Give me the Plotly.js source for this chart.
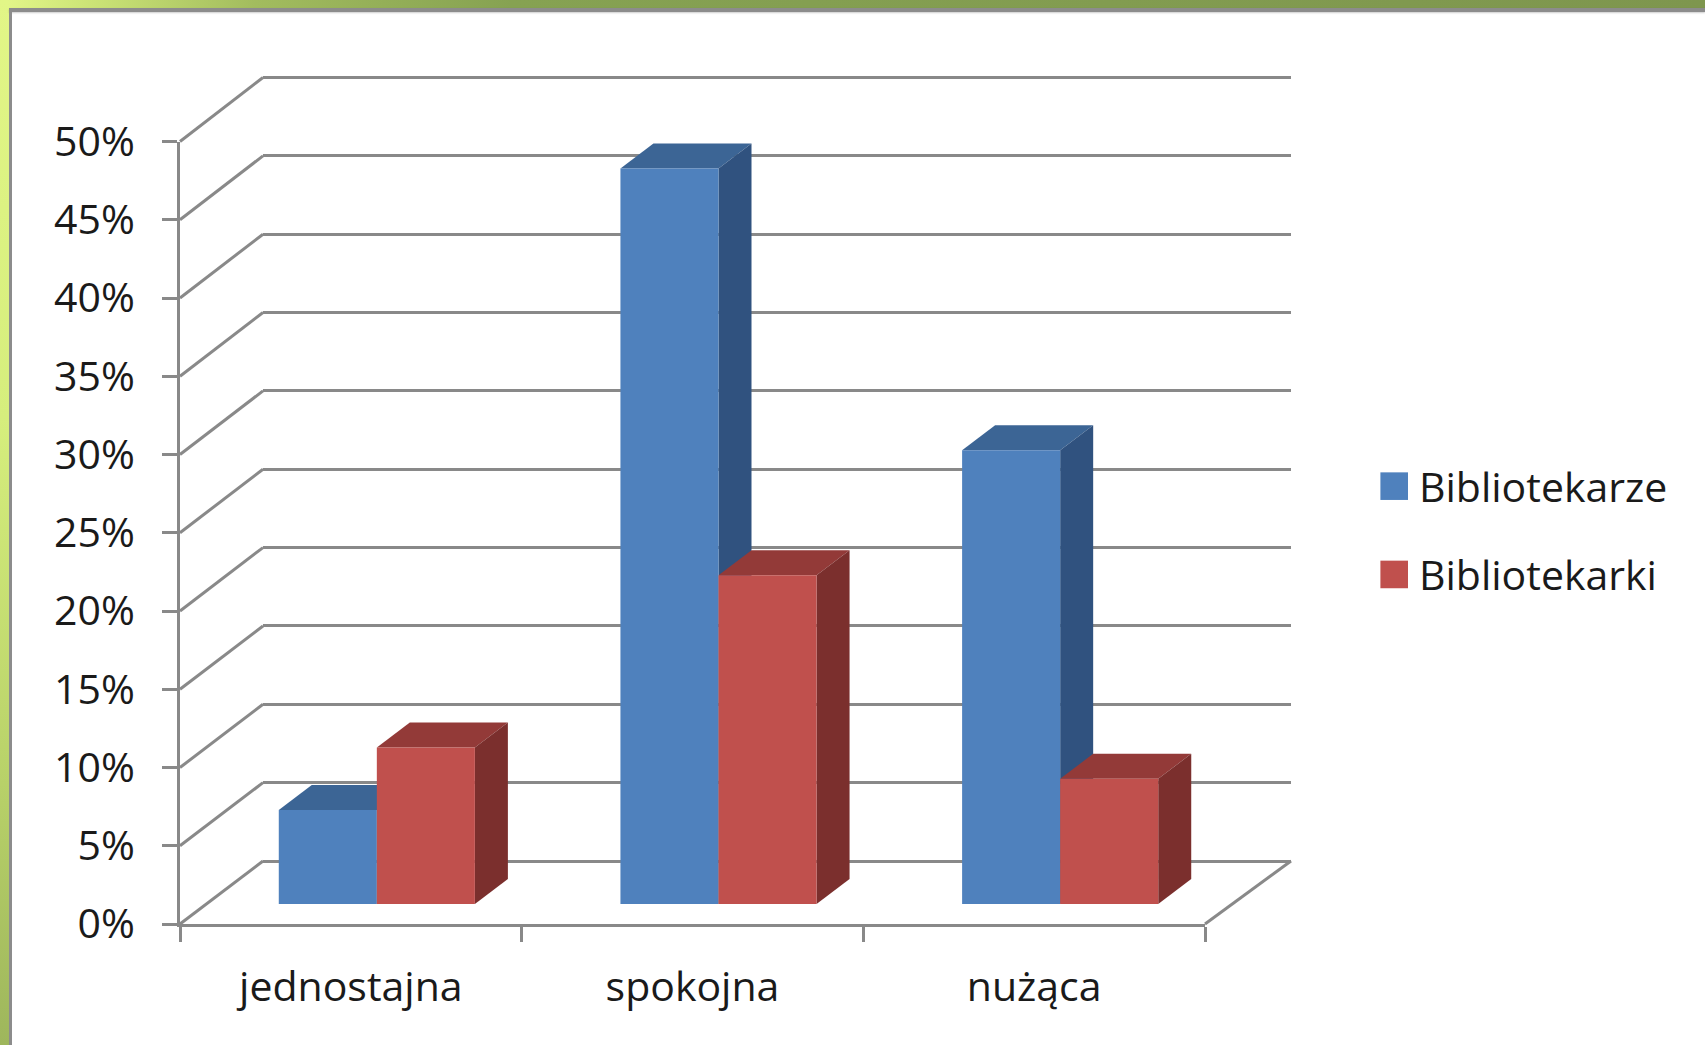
<!DOCTYPE html>
<html>
<head>
<meta charset="utf-8">
<script src="https://cdn.plot.ly/plotly-3.0.1.min.js"></script>
<style>
html,body{margin:0;padding:0;width:1705px;height:1045px;overflow:hidden;background:#ffffff;}
#topband{position:absolute;left:0;top:0;width:1705px;height:8px;background:linear-gradient(to right,#E4F78A 0%,#CDE577 5%,#A2BC5E 15%,#86A252 30%,#7E964E 100%);}
#leftband{position:absolute;left:0;top:0;width:9px;height:1045px;background:linear-gradient(to bottom,#E2F687 0%,#D6EE7D 40%,#B8D169 75%,#9EB65C 100%);}
#topline{position:absolute;left:9px;top:8px;width:1696px;height:4px;background:#8C8C8C;box-shadow:0 1px 2px rgba(0,0,0,0.2);}
#leftline{position:absolute;left:9px;top:8px;width:3px;height:1037px;background:#8C8C8C;}
#chart{position:absolute;left:0;top:0;width:1705px;height:1045px;}
</style>
</head>
<body>
<div id="topband"></div>
<div id="leftband"></div>
<div id="topline"></div>
<div id="leftline"></div>
<div id="chart"></div>
<script>
// ---------------- data ----------------
const categories = ['jednostajna', 'spokojna', 'nużąca'];
const seriesNames = ['Bibliotekarze', 'Bibliotekarki'];
const bibliotekarze = [6, 47, 29];   // %
const bibliotekarki = [10, 21, 8];   // %
const yTickValues = [0, 5, 10, 15, 20, 25, 30, 35, 40, 45, 50];
const yTickLabels = ['0%', '5%', '10%', '15%', '20%', '25%', '30%', '35%', '40%', '45%', '50%'];

// ---------------- styling / geometry ----------------
const W = 1705, H = 1045;
const FRONT = {x0: 180, x1: 1205, y0: 924, y1: 141.5};   // front plane (axes)
const BACK  = {x0: 263, x1: 1291, y0: 861, y1: 77.5};    // back wall
const BARP  = {x0: 206, x1: 1231, y0: 904, y1: 121.5};   // bar front-face plane
const BAR_DEPTH_X = 33, BAR_DEPTH_Y = 25;                 // px
const YMAX = 50;
const GRID = '#898989';
const frontCol = ['#4F81BD', '#C0504D'];
const topCol   = ['#3C6595', '#933A38'];
const sideCol  = ['#30527F', '#7B2F2D'];
const FONT = {family: '"Open Sans", Lato, sans-serif', size: 41, color: '#1a1a1a'};

const xd = g => [g.x0 / W, g.x1 / W];
const yd = g => [1 - g.y0 / H, 1 - g.y1 / H];

// back wall domain padded so 0% and 50% gridlines are inside the subplot
const backPxPerUnit = (BACK.y0 - BACK.y1) / YMAX;
const PAD = 0.5;
const backYDom = [1 - (BACK.y0 + PAD * backPxPerUnit) / H, 1 - (BACK.y1 - PAD * backPxPerUnit) / H];

// ---------------- traces ----------------
const idx = categories.map((c, i) => i);
const barWidth = 0.287;
const traces = [
  // back wall carrier (invisible)
  {x: [0], y: [0], xaxis: 'x', yaxis: 'y', type: 'scatter', mode: 'markers',
   marker: {opacity: 0}, showlegend: false, hoverinfo: 'skip'},
  // front axes carrier (invisible)
  {x: categories, y: [0, 0, 0], xaxis: 'x2', yaxis: 'y2', type: 'scatter', mode: 'markers',
   marker: {opacity: 0}, showlegend: false, hoverinfo: 'skip'},
  {x: idx, y: bibliotekarze, name: seriesNames[0], type: 'bar', xaxis: 'x3', yaxis: 'y3',
   marker: {color: frontCol[0], line: {width: 0}}, legendgroup: 'a', textposition: 'none',
   customdata: categories, hovertemplate: '%{customdata}: %{y}%<extra>' + seriesNames[0] + '</extra>'},
  {x: idx, y: bibliotekarki, name: seriesNames[1], type: 'bar', xaxis: 'x3', yaxis: 'y3',
   marker: {color: frontCol[1], line: {width: 0}}, legendgroup: 'b', textposition: 'none',
   customdata: categories, hovertemplate: '%{customdata}: %{y}%<extra>' + seriesNames[1] + '</extra>'}
];

// ---------------- 3D faces (data coords of bar plane) ----------------
const ddx = BAR_DEPTH_X / ((BARP.x1 - BARP.x0) / 3);
const ddy = BAR_DEPTH_Y / ((BARP.y0 - BARP.y1) / YMAX);
const shapes = [];
const seriesVals = [bibliotekarze, bibliotekarki];
categories.forEach((c, i) => {
  seriesVals.forEach((vals, s) => {
    const v = vals[i];
    const xl = s === 0 ? i - barWidth : i;
    const xr = xl + barWidth;
    shapes.push({type: 'path', xref: 'x3', yref: 'y3', layer: 'below',
      path: `M${xl},${v} L${xr},${v} L${xr + ddx},${v + ddy} L${xl + ddx},${v + ddy} Z`,
      fillcolor: topCol[s], line: {width: 0}});
    shapes.push({type: 'path', xref: 'x3', yref: 'y3', layer: 'below',
      path: `M${xr},0 L${xr},${v} L${xr + ddx},${v + ddy} L${xr + ddx},${ddy} Z`,
      fillcolor: sideCol[s], line: {width: 0}});
  });
});

// left wall diagonals + floor edge (paper coords)
const frontY = v => FRONT.y0 - v / YMAX * (FRONT.y0 - FRONT.y1);
const backY  = v => BACK.y0 - v / YMAX * (BACK.y0 - BACK.y1);
yTickValues.forEach(v => {
  shapes.push({type: 'line', xref: 'paper', yref: 'paper', layer: 'below',
    x0: FRONT.x0 / W, y0: 1 - frontY(v) / H, x1: BACK.x0 / W, y1: 1 - backY(v) / H,
    line: {color: GRID, width: 3}});
});
shapes.push({type: 'line', xref: 'paper', yref: 'paper', layer: 'below',
  x0: FRONT.x1 / W, y0: 1 - frontY(0) / H, x1: BACK.x1 / W, y1: 1 - backY(0) / H,
  line: {color: GRID, width: 3}});

// ---------------- layout ----------------
const layout = {
  width: W, height: H, autosize: false,
  margin: {l: 0, r: 0, t: 0, b: 0, pad: 0},
  paper_bgcolor: 'rgba(0,0,0,0)', plot_bgcolor: 'rgba(0,0,0,0)',
  font: FONT,
  barmode: 'group', bargap: 1 - 2 * barWidth, bargroupgap: 0,
  showlegend: true,
  legend: {x: 1379 / W, y: 1 - 453 / H, xanchor: 'left', yanchor: 'top',
    bgcolor: 'rgba(0,0,0,0)', font: FONT, traceorder: 'grouped', tracegroupgap: 32},
  // back wall
  xaxis: {domain: xd(BACK), range: [0, 1], showgrid: false, zeroline: false,
    showline: false, showticklabels: false, ticks: '', fixedrange: true},
  yaxis: {domain: backYDom, range: [-PAD, YMAX + PAD], anchor: 'x', tickvals: yTickValues,
    showgrid: true, gridcolor: GRID, gridwidth: 3, zeroline: false, showline: false,
    showticklabels: false, ticks: '', fixedrange: true},
  // front axes
  xaxis2: {domain: xd(FRONT), anchor: 'y2', type: 'category', categoryarray: categories,
    range: [-0.5, 2.5], showgrid: false, zeroline: false, showline: true, linecolor: GRID,
    linewidth: 3, ticks: 'outside', tickson: 'boundaries', ticklen: 15, tickwidth: 3,
    tickcolor: GRID, tickfont: FONT, ticklabelstandoff: 25, fixedrange: true},
  yaxis2: {domain: yd(FRONT), anchor: 'x2', range: [0, YMAX], tickvals: yTickValues,
    ticktext: yTickLabels, showgrid: false, zeroline: false, showline: true, linecolor: GRID,
    linewidth: 3, ticks: 'outside', ticklen: 15, tickwidth: 3, tickcolor: GRID,
    tickfont: FONT, ticklabelstandoff: 19, fixedrange: true},
  // bar plane
  xaxis3: {domain: xd(BARP), anchor: 'y3', range: [-0.5, 2.5], visible: false, fixedrange: true},
  yaxis3: {domain: yd(BARP), anchor: 'x3', range: [0, YMAX], visible: false, fixedrange: true},
  shapes: shapes
};

Plotly.newPlot('chart', traces, layout, {displayModeBar: false}).then(gd => {
  // enlarge legend swatches to square blocks like the reference
  const items = gd.querySelectorAll('.legend .traces');
  items.forEach(item => {
    const p = item.querySelector('.legendpoints path');
    const t = item.querySelector('.legendtext');
    if (!p || !t) return;
    p.setAttribute('d', 'M13.8,13.8H-13.8V-13.8H13.8Z');
    p.removeAttribute('transform');
    const pr = p.getBoundingClientRect();
    const tr = t.getBoundingClientRect();
    const dx = (tr.left - 11) - pr.right;
    p.setAttribute('transform', 'translate(' + dx + ',0)');
  });
});
</script>
</body>
</html>
